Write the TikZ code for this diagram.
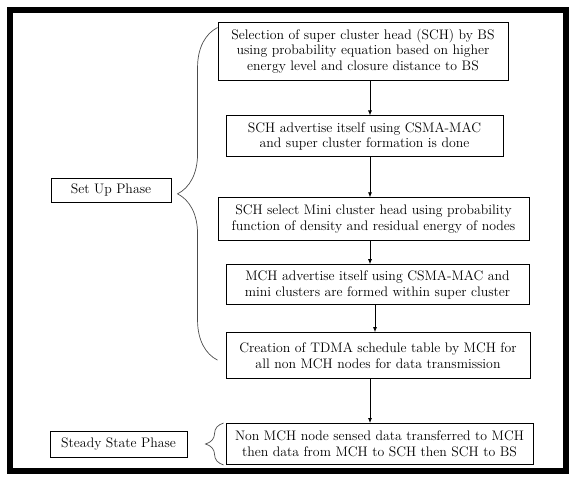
\documentclass[tikz,border=0pt]{standalone}
\usepackage{tikz}
\usetikzlibrary{arrows.meta,positioning,decorations.pathreplacing}

\begin{document}
\begin{tikzpicture}[
  x=1pt,y=-1pt,
  box/.style={draw,align=center,font=\fontsize{13.8}{15.5}\selectfont,
              inner sep=1pt,line width=0.9pt},
  arr/.style={-{Latex[length=5pt,width=4pt]},line width=0.8pt},
  brc/.style={decorate,decoration={brace,amplitude=#1},draw=black!70,line width=0.7pt}
]
\useasboundingbox (0,0) rectangle (571,481);
\draw[line width=6pt] (10,10) rectangle (566,471);
% set up phase steps
\node[box,minimum width=290pt,minimum height=58pt] (sel) at (363,51)
  {Selection of super cluster head (SCH) by BS\\using probability equation based on higher\\energy level and closure distance to BS};
\node[box,minimum width=277pt,minimum height=41pt,below=35pt of sel,xshift=1.5pt] (adv)
  {SCH advertise itself using CSMA-MAC\\and super cluster formation is done};
\node[box,minimum width=311pt,minimum height=43pt,below=40pt of adv,xshift=9pt] (mini)
  {SCH select Mini cluster head using probability\\function of density and residual energy of nodes};
\node[box,minimum width=303pt,minimum height=40pt,below=23pt of mini,xshift=4pt] (madv)
  {MCH advertise itself using CSMA-MAC and\\mini clusters are formed within super cluster};
\node[box,minimum width=304pt,minimum height=46pt,below=27pt of madv,xshift=0.5pt] (tdma)
  {Creation of TDMA schedule table by MCH for\\all non MCH nodes for data transmission};
% steady state
\node[box,minimum width=307pt,minimum height=41pt,below=44pt of tdma,xshift=1.5pt] (data)
  {Non MCH node sensed data transferred to MCH\\then data from MCH to SCH then SCH to BS};
% phases
\node[box,minimum width=120pt,minimum height=24pt] (setup) at (111,190) {Set Up Phase};
\node[box,minimum width=137pt,minimum height=26pt,left=38pt of data] (steady) {Steady State Phase};
\coordinate (col) at (370,0);
\coordinate (col2) at (375,0);
\draw[arr] (sel.south -| col) -- (adv.north -| col);
\draw[arr] (adv.south -| col) -- (mini.north -| col);
\draw[arr] (mini.south -| col) -- (madv.north -| col);
\draw[arr] (madv.south -| col2) -- (tdma.north -| col2);
\draw[arr] (tdma.south -| col) -- (data.north -| col);
% braces
\draw[brc=40pt] ([xshift=-8pt,yshift=-28pt]tdma.north west) -- ([yshift=-6pt]sel.north west);
\draw[brc=18pt] ([xshift=-2pt]data.south west) -- ([xshift=-2pt]data.north west);
\end{tikzpicture}
\end{document}
